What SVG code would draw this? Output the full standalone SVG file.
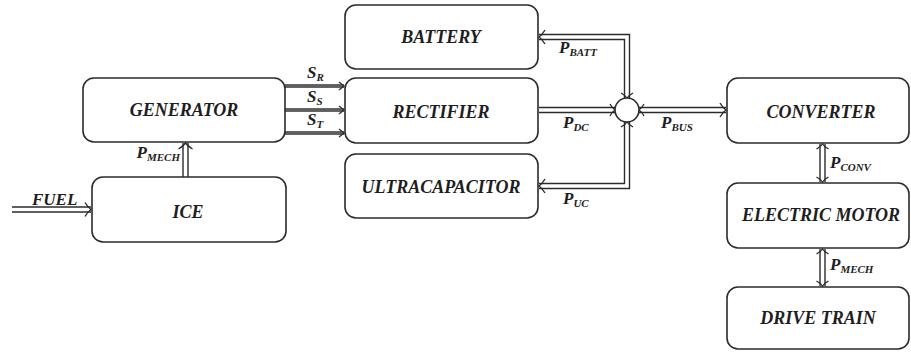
<svg xmlns="http://www.w3.org/2000/svg" width="911" height="354" viewBox="0 0 911 354">
<style>
.box{fill:#fff;stroke:#2b2b2b;stroke-width:1.6}
.bt{font-family:"Liberation Serif","Times New Roman",serif;font-weight:bold;font-style:italic;font-size:18px;fill:#1e1e1e;text-anchor:middle}
.lbl{font-family:"Liberation Serif","Times New Roman",serif;font-weight:bold;font-style:italic;font-size:17px;fill:#1e1e1e}
.sub{font-size:11px}
.do{fill:none;stroke:#2b2b2b;stroke-width:6.4;stroke-linejoin:miter}
.di{fill:none;stroke:#fff;stroke-width:3.6;stroke-linejoin:miter}
.so{fill:none;stroke:#333;stroke-width:3.6}
.si{fill:none;stroke:#8a8a8a;stroke-width:1}
</style>
<defs>
<marker id="ah" markerUnits="userSpaceOnUse" orient="auto-start-reverse" overflow="visible" markerWidth="1" markerHeight="1">
<path d="M-6,-7 Q-3,-2 0,0 Q-3,2 -6,7" fill="none" stroke="#2b2b2b" stroke-width="1.4"/>
</marker>
<marker id="ahc" markerUnits="userSpaceOnUse" orient="auto-start-reverse" overflow="visible" markerWidth="1" markerHeight="1">
<path d="M-5,-6 Q-2.5,-1.5 0,0 Q-2.5,1.5 -5,6" fill="none" stroke="#2b2b2b" stroke-width="1.3"/>
</marker>
<marker id="ahs" markerUnits="userSpaceOnUse" orient="auto" overflow="visible" markerWidth="1" markerHeight="1">
<path d="M-5,-4 L0,0 L-5,4" fill="none" stroke="#333" stroke-width="1.4"/>
</marker>
</defs>
<rect width="911" height="354" fill="#fff"/>

<g id="connectors">
<g id="c-fuel"><path class="do" d="M12,209.5 H91"/><path class="di" d="M12,209.5 H91" marker-end="url(#ah)"/></g>
<g id="c-pmech1"><path class="do" d="M185.5,177 V143"/><path class="di" d="M185.5,177 V143" marker-end="url(#ah)"/></g>
<g id="c-sr"><path class="so" d="M285,86 H344"/><path class="si" d="M285,86 H344" marker-end="url(#ahs)"/></g>
<g id="c-ss"><path class="so" d="M285,110 H344"/><path class="si" d="M285,110 H344" marker-end="url(#ahs)"/></g>
<g id="c-st"><path class="so" d="M285,133 H344"/><path class="si" d="M285,133 H344" marker-end="url(#ahs)"/></g>
<g id="c-batt"><path class="do" d="M627,98 V37 H539"/><path class="di" d="M627,98 V37 H539" marker-start="url(#ahc)" marker-end="url(#ah)"/></g>
<g id="c-uc"><path class="do" d="M627,122 V186 H539"/><path class="di" d="M627,122 V186 H539" marker-start="url(#ahc)" marker-end="url(#ah)"/></g>
<g id="c-dc"><path class="do" d="M539,110 H615"/><path class="di" d="M539,110 H615" marker-end="url(#ahc)"/></g>
<g id="c-bus"><path class="do" d="M639,110 H726"/><path class="di" d="M639,110 H726" marker-start="url(#ahc)" marker-end="url(#ah)"/></g>
<g id="c-conv"><path class="do" d="M822.5,144 V182"/><path class="di" d="M822.5,144 V182" marker-start="url(#ahc)" marker-end="url(#ahc)"/></g>
<g id="c-pmech2"><path class="do" d="M822.5,249 V286"/><path class="di" d="M822.5,249 V286" marker-start="url(#ahc)" marker-end="url(#ahc)"/></g>
<circle id="junction" cx="627" cy="110" r="12" fill="#fff" stroke="#2b2b2b" stroke-width="1.6"/>
</g>

<g id="labels">
<text class="lbl" x="32" y="205">FUEL</text>
<text class="lbl" x="180" y="158" text-anchor="end">P<tspan class="sub" dy="3">MECH</tspan></text>
<text class="lbl" x="307" y="78" font-size="16">S<tspan class="sub" dy="3">R</tspan></text>
<text class="lbl" x="307" y="102" font-size="16">S<tspan class="sub" dy="3">S</tspan></text>
<text class="lbl" x="307" y="125" font-size="16">S<tspan class="sub" dy="3">T</tspan></text>
<text class="lbl" x="559" y="53">P<tspan class="sub" dy="3">BATT</tspan></text>
<text class="lbl" x="563" y="128">P<tspan class="sub" dy="3">DC</tspan></text>
<text class="lbl" x="563" y="204">P<tspan class="sub" dy="3">UC</tspan></text>
<text class="lbl" x="661" y="128">P<tspan class="sub" dy="3">BUS</tspan></text>
<text class="lbl" x="830" y="168">P<tspan class="sub" dy="3">CONV</tspan></text>
<text class="lbl" x="830" y="270">P<tspan class="sub" dy="3">MECH</tspan></text>
</g>

<g id="generator"><rect class="box" x="83" y="78" width="202" height="64" rx="11"/><text class="bt" x="184" y="116">GENERATOR</text></g>
<g id="ice"><rect class="box" x="92" y="177" width="194" height="65" rx="11"/><text class="bt" x="188" y="218">ICE</text></g>
<g id="battery"><rect class="box" x="345" y="5" width="193" height="64" rx="11"/><text class="bt" x="441" y="43">BATTERY</text></g>
<g id="rectifier"><rect class="box" x="345" y="78" width="193" height="65" rx="11"/><text class="bt" x="441" y="118">RECTIFIER</text></g>
<g id="ultracapacitor"><rect class="box" x="345" y="154" width="193" height="64" rx="11"/><text class="bt" x="441" y="193">ULTRACAPACITOR</text></g>
<g id="converter"><rect class="box" x="727" y="78" width="182" height="65" rx="11"/><text class="bt" x="821" y="118">CONVERTER</text></g>
<g id="electric-motor"><rect class="box" x="727" y="183" width="182" height="65" rx="11"/><text class="bt" x="821" y="221">ELECTRIC MOTOR</text></g>
<g id="drive-train"><rect class="box" x="727" y="287" width="182" height="62" rx="11"/><text class="bt" x="818" y="324">DRIVE TRAIN</text></g>
</svg>
